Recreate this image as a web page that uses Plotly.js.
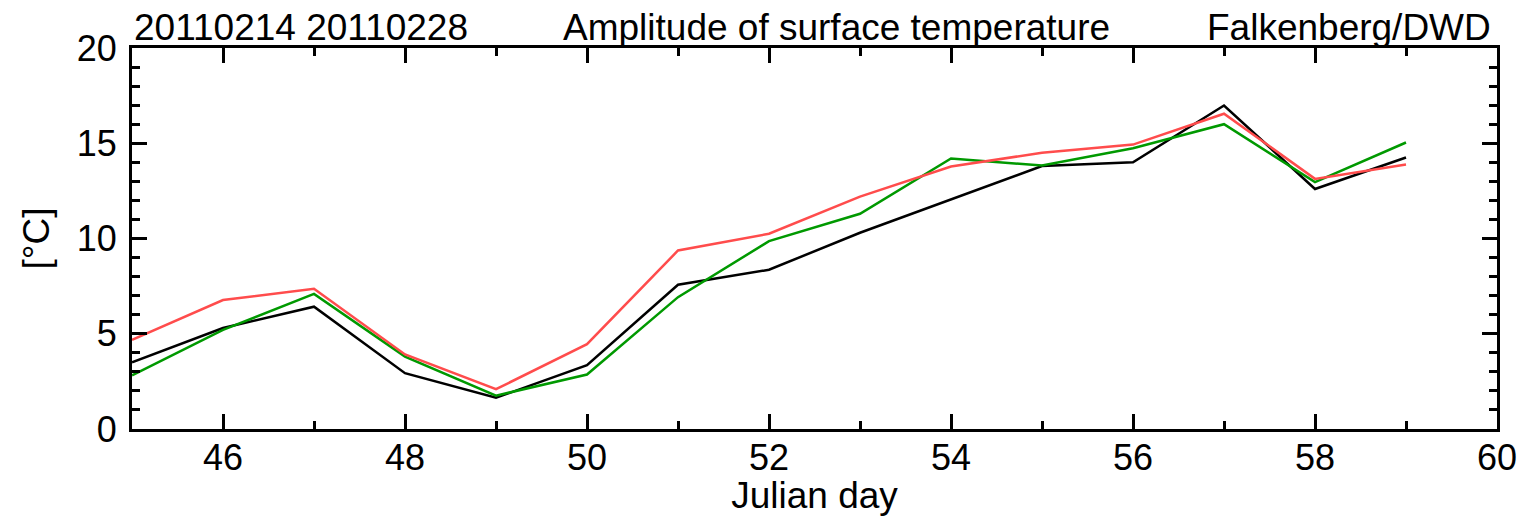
<!DOCTYPE html>
<html><head><meta charset="utf-8">
<script src="https://cdn.plot.ly/plotly-3.0.1.min.js"></script>
<style>html,body{margin:0;padding:0;background:#fff;}#chart{width:1529px;height:516px;}</style>
</head><body><div id="chart"></div>
<script>
const days = [45,46,47,48,49,50,51,52,53,54,55,56,57,58,59];
const blackSeries = [3.5,5.3,6.42,2.93,1.64,3.35,7.57,8.36,10.3,12.05,13.8,14.0,16.98,12.6,14.25];
const greenSeries = [2.82,5.2,7.09,3.8,1.75,2.86,6.92,9.86,11.3,14.2,13.83,14.74,16.0,12.96,15.04];
const redSeries   = [4.68,6.77,7.36,3.91,2.09,4.45,9.37,10.25,12.2,13.78,14.5,14.93,16.55,13.13,13.88];
const leftTitle = "20110214 20110228";
const centerTitle = "Amplitude of surface temperature";
const rightTitle = "Falkenberg/DWD";

const font = "Liberation Sans, Arial, Helvetica, sans-serif";
function tr(y, c){return {x:days, y:y, mode:'lines', line:{color:c, width:2.5}, showlegend:false, hoverinfo:'skip'};}
const data = [tr(blackSeries,'#000000'), tr(greenSeries,'#009900'), tr(redSeries,'#ff4c4c')];
const axBase = {showgrid:false, zeroline:false, showline:true, linecolor:'#000', linewidth:3,
  mirror:'allticks', ticks:'inside', tickcolor:'#000', tickwidth:3, ticklen:15,
  tickfont:{family:font, size:36, color:'#000'}};
const layout = {
  width:1529, height:516,
  margin:{l:132, r:32, t:48, b:87},
  paper_bgcolor:'#fff', plot_bgcolor:'#fff',
  font:{family:font, color:'#000'},
  xaxis:Object.assign({}, axBase, {range:[45,60], dtick:2, tick0:46, ticklabelstandoff:-5,
    minor:{dtick:1, ticks:'inside', ticklen:8, tickcolor:'#000', tickwidth:3},
    title:{text:'Julian day', font:{family:font, size:37}, standoff:4}}),
  yaxis:Object.assign({}, axBase, {range:[0,20], dtick:5, tick0:0, ticklabelstandoff:5,
    minor:{dtick:1, ticks:'inside', ticklen:8, tickcolor:'#000', tickwidth:3},
    title:{text:'[°C]', font:{family:font, size:37}, standoff:16}}),
  annotations:[
    {text:leftTitle, xref:'paper', yref:'paper', x:0, y:1, xanchor:'left', yanchor:'bottom', yshift:-2, showarrow:false, font:{family:font, size:37}},
    {text:centerTitle, xref:'paper', yref:'paper', x:0.516, y:1, xanchor:'center', yanchor:'bottom', yshift:-2, showarrow:false, font:{family:font, size:37}},
    {text:rightTitle, xref:'paper', yref:'paper', x:0.997, y:1, xanchor:'right', yanchor:'bottom', yshift:-2, showarrow:false, font:{family:font, size:37}}
  ]
};
Plotly.newPlot('chart', data, layout, {staticPlot:true, displayModeBar:false});
</script></body></html>
